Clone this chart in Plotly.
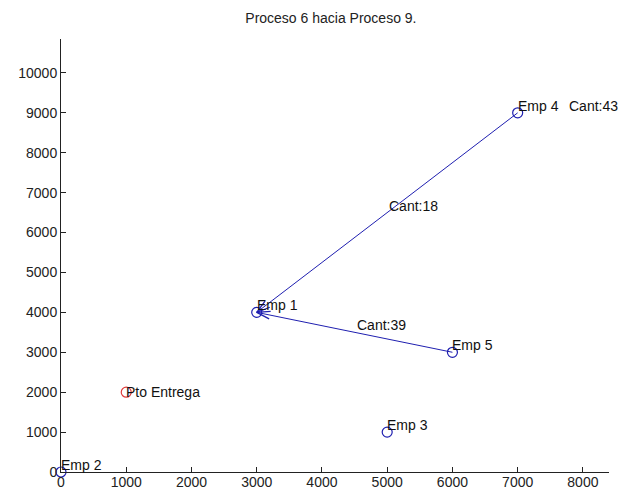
import math
import plotly.graph_objects as go

# ---- data ----
title_text = "Proceso 6 hacia Proceso 9."
emp_names = ["Emp 1", "Emp 2", "Emp 3", "Emp 4", "Emp 5"]
emp_x = [3000, 0, 5000, 7000, 6000]
emp_y = [4000, 0, 1000, 9000, 3000]
entrega_name = "Pto Entrega"
entrega_x = [1000]
entrega_y = [2000]
# flows: (from index, to index, quantity)
flow_from = [3, 4]
flow_to = [0, 0]
flow_cant = [18, 39]
extra_label = "Cant:43"
extra_x = [7760]
extra_y = [9000]
x_ticks = [0, 1000, 2000, 3000, 4000, 5000, 6000, 7000, 8000]
x_tick_text = ["0", "1000", "2000", "3000", "4000", "5000", "6000", "7000", "8000"]
y_ticks = [0, 1000, 2000, 3000, 4000, 5000, 6000, 7000, 8000, 9000, 10000]
y_tick_text = ["0", "1000", "2000", "3000", "4000", "5000", "6000", "7000", "8000",
               "9000", "10000"]
x_range = [0, 8400]
y_range = [0, 10850]

# page body has an 8px margin, so the figure is placed at (8, 8)
W, H = 621, 482
M = dict(l=53, r=20, t=31, b=18)
px_x = (W - M["l"] - M["r"]) / (x_range[1] - x_range[0])
px_y = (H - M["t"] - M["b"]) / (y_range[1] - y_range[0])

BLUE = "#1f1fb0"
RED = "#e03a3a"
FONT = "Liberation Sans, Arial, sans-serif"

fig = go.Figure()

# flow lines + open arrowheads
head_len = 14.0
head_ang = math.radians(16)
for f, t in zip(flow_from, flow_to):
    x0, y0 = emp_x[f], emp_y[f]
    x1, y1 = emp_x[t], emp_y[t]
    fig.add_trace(go.Scatter(x=[x0, x1], y=[y0, y1], mode="lines",
                             line=dict(color=BLUE, width=1), hoverinfo="skip",
                             showlegend=False, cliponaxis=False))
    dxp = (x1 - x0) * px_x
    dyp = (y1 - y0) * px_y
    ang = math.atan2(dyp, dxp)
    hx, hy = [], []
    for s in (1, -1):
        a = ang + math.pi + s * head_ang
        hx += [x1 + head_len * math.cos(a) / px_x, x1, None]
        hy += [y1 + head_len * math.sin(a) / px_y, y1, None]
    fig.add_trace(go.Scatter(x=hx, y=hy, mode="lines",
                             line=dict(color=BLUE, width=1.3), hoverinfo="skip",
                             showlegend=False, cliponaxis=False))

fig.add_trace(go.Scatter(x=emp_x, y=emp_y, mode="markers",
                         marker=dict(symbol="circle-open", size=10,
                                     color=BLUE, line=dict(width=1.2)),
                         showlegend=False, hoverinfo="skip", cliponaxis=False))
fig.add_trace(go.Scatter(x=entrega_x, y=entrega_y, mode="markers",
                         marker=dict(symbol="circle-open", size=10,
                                     color=RED, line=dict(width=1.2)),
                         showlegend=False, hoverinfo="skip", cliponaxis=False))

tf = dict(family=FONT, size=14, color="#111")
ann = []
for n, x, y in zip(emp_names, emp_x, emp_y):
    ann.append(dict(x=x, y=y, text=n, showarrow=False, xanchor="left",
                    yanchor="bottom", xshift=-2, yshift=-3, font=tf))
ann.append(dict(x=entrega_x[0], y=entrega_y[0], text=entrega_name, showarrow=False,
                xanchor="left", yanchor="middle", xshift=-2, font=tf))
ann.append(dict(x=extra_x[0], y=extra_y[0], text=extra_label, showarrow=False,
                xanchor="left", yanchor="bottom", yshift=-3, font=tf))
for f, t, c in zip(flow_from, flow_to, flow_cant):
    mx = (emp_x[f] + emp_x[t]) / 2
    my = (emp_y[f] + emp_y[t]) / 2
    ann.append(dict(x=mx, y=my, text=f"Cant:{c}", showarrow=False,
                    xanchor="left", yanchor="bottom", yshift=-3, font=tf))

axis_common = dict(showgrid=False, zeroline=False, showline=True,
                   linecolor="#222", linewidth=1, ticks="inside", ticklen=5,
                   tickcolor="#222", tickfont=dict(family=FONT, size=14, color="#222"),
                   mirror=False, automargin=False, tickmode="array")
fig.update_layout(
    width=W, height=H, margin=M,
    paper_bgcolor="white", plot_bgcolor="white",
    title=dict(text=title_text, x=0.52, xanchor="center", y=1 - 10 / H, yanchor="middle",
               font=dict(family=FONT, size=14, color="#222")),
    xaxis=dict(range=x_range, tickvals=x_ticks, ticktext=x_tick_text,
               ticklabelstandoff=-3, **axis_common),
    yaxis=dict(range=y_range, tickvals=y_ticks, ticktext=y_tick_text, **axis_common),
    annotations=ann,
)
fig.write_html("out.html")
